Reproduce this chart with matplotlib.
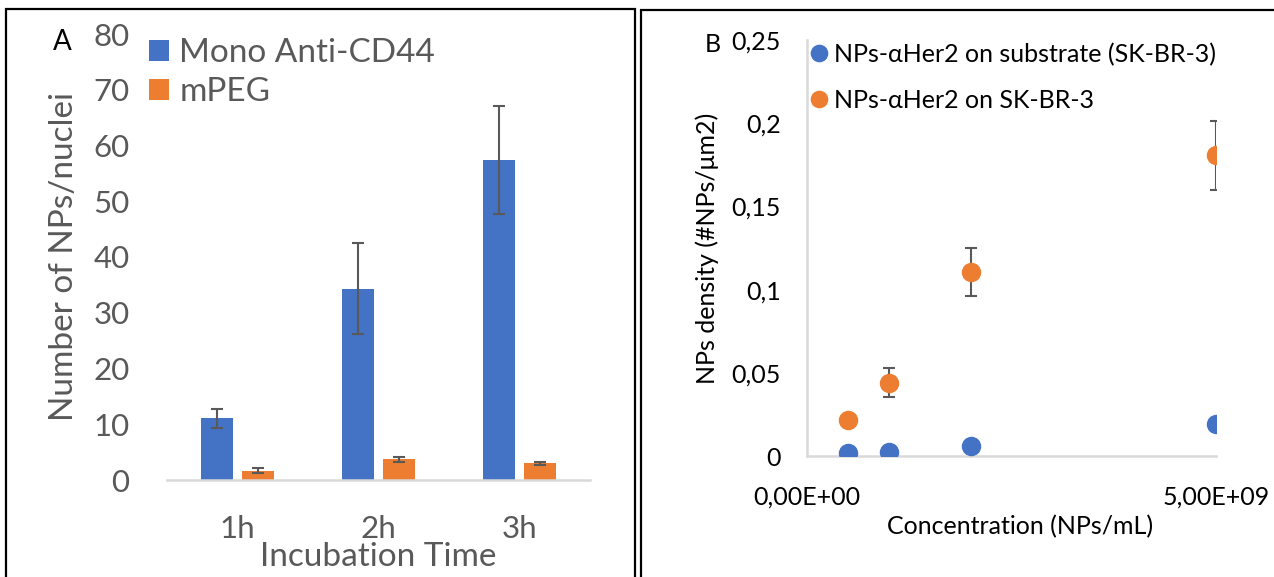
import matplotlib
matplotlib.use("Agg")
import matplotlib.pyplot as plt
import numpy as np
from matplotlib.patches import Rectangle

plt.rcParams['font.family'] = ['Lato', 'DejaVu Sans']

# ---- Panel A data ----
times = ["1h", "2h", "3h"]
mono_vals = [11.1, 34.3, 57.4]
mono_err = [1.7, 8.2, 9.7]
mpeg_vals = [1.7, 3.7, 3.0]
mpeg_err = [0.4, 0.4, 0.3]
a_yticks = [0, 10, 20, 30, 40, 50, 60, 70, 80]

# ---- Panel B data ----
conc = [0.5e9, 1.0e9, 2.0e9, 5.0e9]
substrate_vals = [0.0018, 0.0026, 0.0059, 0.019]
substrate_err = [0.0, 0.0, 0.0, 0.003]
cells_vals = [0.0216, 0.044, 0.1106, 0.1806]
cells_err = [0.0, 0.0086, 0.0147, 0.021]
b_yticks = [0, 0.05, 0.1, 0.15, 0.2, 0.25]
b_yticklabels = ["0", "0,05", "0,1", "0,15", "0,2", "0,25"]
b_xticks = [0, 5e9]
b_xticklabels = ["0,00E+00", "5,00E+09"]

BLUE = "#4472C4"
ORANGE = "#ED7D31"
GRAY = "#595959"
SPINE = "#D9D9D9"

W, H = 1274, 577
fig = plt.figure(figsize=(W / 100, H / 100), dpi=100)

def fx(px):
    return px / W

def fy(py):
    return 1 - py / H

# panel borders
fig.patches.append(Rectangle((fx(6), fy(600)), fx(635) - fx(6), fy(9) - fy(600),
                             transform=fig.transFigure, fill=False, lw=1.6,
                             edgecolor="black", clip_on=False))
fig.patches.append(Rectangle((fx(641), fy(600)), fx(1290) - fx(641), fy(10) - fy(600),
                             transform=fig.transFigure, fill=False, lw=1.6,
                             edgecolor="black", clip_on=False))

# ---------------- Panel A ----------------
FA_T = 22.5
FA_L = 24
axA = fig.add_axes([fx(167), fy(480), fx(590) - fx(167), fy(34) - fy(480)])
x = np.arange(len(times))
bw = 0.227
off = 0.142
bA = axA.bar(x - off, mono_vals, bw, color=BLUE, label="Mono Anti-CD44",
             yerr=mono_err, error_kw=dict(ecolor=GRAY, elinewidth=1.5, capsize=4.5, capthick=1.5))
bB = axA.bar(x + off, mpeg_vals, bw, color=ORANGE, label="mPEG",
             yerr=mpeg_err, error_kw=dict(ecolor=GRAY, elinewidth=1.5, capsize=4.5, capthick=1.5))
axA.set_xlim(-0.5, 2.5)
axA.set_ylim(0, 80)
axA.set_yticks(a_yticks)
axA.set_xticks(x)
axA.set_xticklabels(times)
for s in ["top", "right", "left"]:
    axA.spines[s].set_visible(False)
axA.spines["bottom"].set_color(SPINE)
axA.spines["bottom"].set_linewidth(1.8)
axA.tick_params(axis="y", length=0, pad=27, labelsize=FA_T, labelcolor=GRAY)
axA.tick_params(axis="x", length=0, pad=25, labelsize=FA_T, labelcolor=GRAY)
axA.set_ylabel("Number of NPs/nuclei", fontsize=FA_L, color=GRAY)
axA.yaxis.set_label_coords(-0.207, 0.502)
axA.set_xlabel("Incubation Time", fontsize=FA_L, color=GRAY, va="center")
axA.xaxis.set_label_coords(0.499, -0.1726)
legA = axA.legend(loc="upper left", bbox_to_anchor=(fx(126), fy(15)),
                  bbox_transform=fig.transFigure, frameon=False, fontsize=FA_L,
                  handlelength=0.6, handleheight=0.6, handletextpad=0.3,
                  labelspacing=0.26, borderpad=0.2)
for t in legA.get_texts():
    t.set_color(GRAY)
fig.text(fx(62), fy(42), "A", fontsize=20, ha="center", va="center", color="black")

# ---------------- Panel B ----------------
FB = 18
axB = fig.add_axes([fx(807), fy(456), fx(1216) - fx(807), fy(40) - fy(456)])
axB.errorbar(conc, substrate_vals, yerr=substrate_err, fmt="o", color=BLUE,
             markersize=13, ecolor=GRAY, elinewidth=1.5, capsize=4, capthick=1.5,
             label="NPs-\u03b1Her2 on substrate (SK-BR-3)", zorder=3)
axB.errorbar(conc, cells_vals, yerr=cells_err, fmt="o", color=ORANGE,
             markersize=13, ecolor=GRAY, elinewidth=1.5, capsize=4, capthick=1.5,
             label="NPs-\u03b1Her2 on SK-BR-3", zorder=3)
axB.set_xlim(0, 5e9)
axB.set_ylim(0, 0.25)
axB.set_yticks(b_yticks)
axB.set_yticklabels(b_yticklabels)
axB.set_xticks(b_xticks)
axB.set_xticklabels(b_xticklabels)
for s in ["top", "right"]:
    axB.spines[s].set_visible(False)
for s in ["left", "bottom"]:
    axB.spines[s].set_color(SPINE)
    axB.spines[s].set_linewidth(1.8)
axB.tick_params(axis="y", length=0, pad=19, labelsize=FB, labelcolor="black")
axB.tick_params(axis="x", length=0, pad=21, labelsize=FB, labelcolor="black")
axB.set_ylabel("NPs density (#NPs/\u03bcm2)", fontsize=FB, color="black")
axB.yaxis.set_label_coords(-0.215, 0.5)
axB.set_xlabel("Concentration (NPs/mL)", fontsize=FB, color="black", va="center")
axB.xaxis.set_label_coords(0.52, -0.171)
handles, labels = axB.get_legend_handles_labels()
legB = axB.legend([h[0] for h in handles], labels, loc="upper left",
                  bbox_to_anchor=(fx(794), fy(25)), bbox_transform=fig.transFigure,
                  frameon=False, fontsize=FB, markerscale=0.9,
                  handlelength=0.6, handletextpad=0.3, labelspacing=0.92,
                  borderpad=0.2)
fig.text(fx(713), fy(44), "B", fontsize=18, ha="center", va="center", color="black")

fig.savefig("out.png", dpi=100)
